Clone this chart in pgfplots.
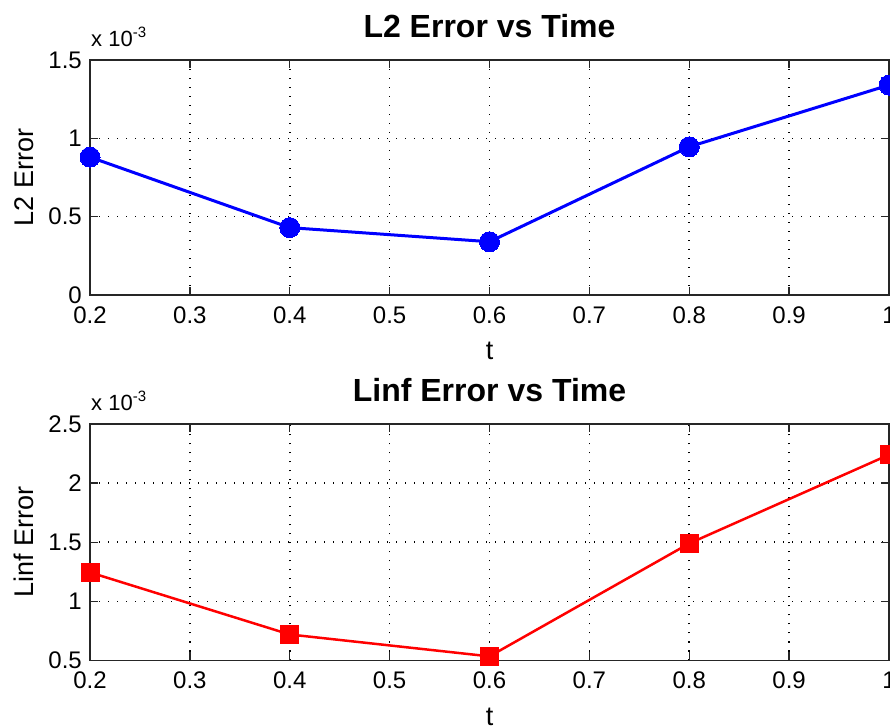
\documentclass[border=0pt]{standalone}
\usepackage{fontspec}
\setmainfont{Liberation Sans}
\usepackage{pgfplots}
\pgfplotsset{compat=1.18}
\definecolor{axgray}{rgb}{0.15,0.15,0.15}
\pgfplotsset{
  mystyle/.style={
    scale only axis,
    width=799pt,
    xmin=0.2, xmax=1,
    xtick={0.2,0.3,0.4,0.5,0.6,0.7,0.8,0.9,1},
    xticklabels={0.2,0.3,0.4,0.5,0.6,0.7,0.8,0.9,1},
    scaled y ticks=false,
    scaled x ticks=false,
    tick align=inside,
    major tick length=8pt,
    axis line style={axgray, line width=1.3pt},
    every tick/.style={axgray, line width=1.3pt},
    grid=major,
    major grid style={black, line width=1.6pt, dash pattern=on 1.3pt off 7.7pt},
    clip=false,
    /pgf/number format/assume math mode=true,
    tick label style={font=\fontsize{24}{24}\selectfont, text=black},
    xticklabel style={anchor=north, inner sep=0pt, yshift=-11.5pt},
    yticklabel style={anchor=east, inner sep=0pt, xshift=-8pt},
    title style={at={(axis description cs:0.5,1)}, anchor=base, inner sep=0pt, yshift=16pt, font=\bfseries\fontsize{32}{32}\selectfont},
    xlabel style={at={(axis description cs:0.5,0)}, anchor=base, inner sep=0pt, yshift=-65pt, font=\fontsize{27}{27}\selectfont},
    ylabel style={at={(axis description cs:-0.0713,0.5)}, anchor=base, inner sep=0pt, font=\fontsize{27}{27}\selectfont},
  }
}
\newcommand{\scalelbl}{{\fontsize{22}{22}\selectfont x 10}{\fontsize{15}{15}\selectfont\raisebox{9pt}{-3}}}
\begin{document}
\begin{tikzpicture}
\path[use as bounding box] (0,0) rectangle (890pt,727pt);
\begin{axis}[mystyle,
  at={(90pt,432pt)}, anchor=south west,
  height=235pt,
  ymin=0, ymax=0.0015,
  ytick={0,0.0005,0.001,0.0015},
  yticklabels={0,0.5,1,1.5},
  title={L2 Error vs Time},
  xlabel={t},
  ylabel={L2 Error},
]
\addplot[blue, line width=3pt, mark=*, mark size=10pt, mark options={solid, fill=blue, draw=blue, line width=0pt}]
  coordinates {(0.2,0.00088) (0.4,0.00043) (0.6,0.00034) (0.8,0.000946) (1.0,0.00134)};
\end{axis}
\begin{axis}[mystyle,
  at={(90pt,66.5pt)}, anchor=south west,
  height=236.5pt,
  ymin=0.0005, ymax=0.0025,
  ytick={0.0005,0.001,0.0015,0.002,0.0025},
  yticklabels={0.5,1,1.5,2,2.5},
  title={Linf Error vs Time},
  xlabel={t},
  ylabel={Linf Error},
]
\addplot[red, line width=2.5pt, mark=square*, mark size=9pt, mark options={solid, fill=red, draw=red, line width=0pt}]
  coordinates {(0.2,0.001245) (0.4,0.00072) (0.6,0.000535) (0.8,0.00149) (1.0,0.00224)};
\end{axis}
\node[anchor=base west, inner sep=0pt] at (91pt,680pt) {\scalelbl};
\node[anchor=base west, inner sep=0pt] at (91pt,316pt) {\scalelbl};
\end{tikzpicture}
\end{document}
